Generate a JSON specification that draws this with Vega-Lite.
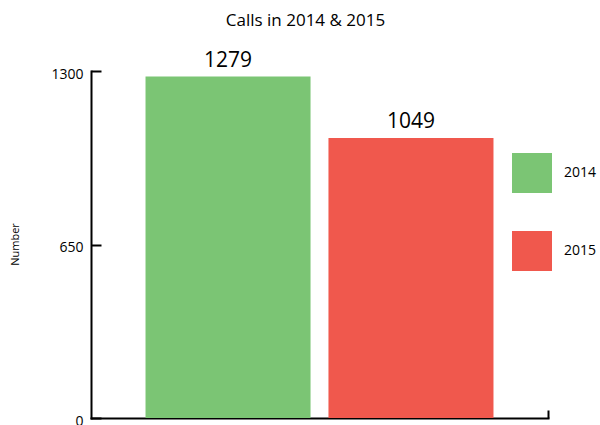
{
  "$schema": "https://vega.github.io/schema/vega-lite/v6.json",
  "autosize": "none",
  "width": 457,
  "height": 347,
  "padding": {"left": 91, "top": 71, "right": 52, "bottom": 7},
  "background": "white",
  "config": {
    "font": "Open Sans",
    "view": {"stroke": null},
    "axis": {"domainColor": "black", "tickColor": "black", "domainWidth": 2, "tickWidth": 2, "grid": false, "labelColor": "black", "titleColor": "black", "domainCap": "square"}
  },
  "title": {"text": "Calls in 2014 & 2015", "fontSize": 17, "fontWeight": "normal", "color": "black", "anchor": "middle", "dx": -14, "offset": 20, "frame": "group"},
  "data": {"values": [
    {"year": "2014", "calls": 1279},
    {"year": "2015", "calls": 1049}
  ]},
  "layer": [
    {
      "encoding": {
        "x": {"field": "year", "type": "nominal", "axis": null, "scale": {"type": "band", "paddingInner": 0.098, "paddingOuter": 0.298}},
        "y": {"field": "calls", "type": "quantitative", "scale": {"domain": [0, 1300], "nice": false},
          "axis": {"values": [0, 650, 1300], "format": "d", "title": "Number", "tickSize": -10, "labelPadding": 18, "labelFontSize": 14, "labelOffset": 3, "titleFontSize": 11, "titleFontWeight": "normal", "titleX": -76, "titleY": 173, "titleAlign": "center", "titleBaseline": "middle"}}
      },
      "layer": [
        {
          "mark": {"type": "bar"},
          "encoding": {
            "color": {"field": "year", "type": "nominal",
              "scale": {"domain": ["2014", "2015"], "range": ["#7BC574", "#F0584D"]},
              "legend": {"orient": "none", "legendX": 421, "legendY": 82, "title": null, "symbolType": "square", "symbolSize": 1600, "symbolStrokeWidth": 0, "symbolOpacity": 1, "rowPadding": 38, "labelFontSize": 14, "labelOffset": 12, "labelColor": "black", "padding": 0}}
          }
        },
        {
          "mark": {"type": "text", "baseline": "alphabetic", "dy": -10, "fontSize": 21, "color": "black"},
          "encoding": {
            "text": {"field": "calls", "type": "quantitative"}
          }
        }
      ]
    },
    {
      "data": {"values": [{"p": 0}, {"p": 1}]},
      "mark": {"type": "point", "opacity": 0},
      "encoding": {
        "x": {"field": "p", "type": "quantitative", "scale": {"domain": [0, 1], "nice": false},
          "axis": {"values": [1], "labels": false, "title": null, "tickSize": -8, "orient": "bottom"}}
      }
    }
  ],
  "resolve": {"scale": {"x": "independent"}, "axis": {"x": "independent"}}
}
